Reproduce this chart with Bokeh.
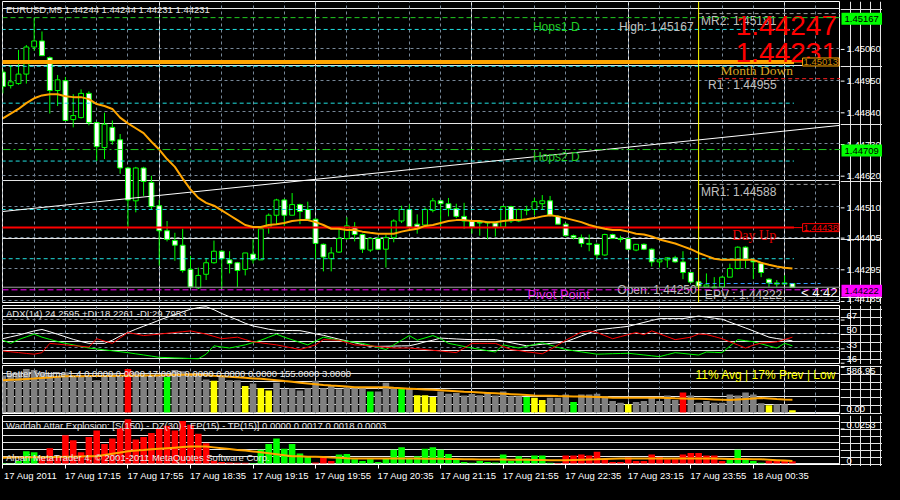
from bokeh.plotting import figure
from bokeh.models import Range1d, FixedTicker, Grid, Label, Span, ColumnDataSource, GlobalInlineStyleSheet
from bokeh.layouts import column, row
from bokeh.core.properties import value
from bokeh.embed import file_html
from bokeh.resources import INLINE

# ---------------------------------------------------------------- data
symbol_title = "EURUSD,M5 1.44244 1.44244 1.44231 1.44231"
bars = list(range(102))
tick_bars = list(range(0, 97, 8))
time_labels = ["17 Aug 2011", "17 Aug 17:15", "17 Aug 17:55", "17 Aug 18:35", "17 Aug 19:15",
               "17 Aug 19:55", "17 Aug 20:35", "17 Aug 21:15", "17 Aug 21:55", "17 Aug 22:35",
               "17 Aug 23:15", "17 Aug 23:55", "18 Aug 00:35"]

opens = [1.44978, 1.44931, 1.44938, 1.44971, 1.45065, 1.45086, 1.45028, 1.44914, 1.44948, 1.44813,
         1.44820, 1.44904, 1.44803, 1.44716, 1.44786, 1.44743, 1.44645, 1.44531, 1.44645, 1.44595,
         1.44514, 1.44427, 1.44393, 1.44377, 1.44293, 1.44229, 1.44276, 1.44316, 1.44356, 1.44326,
         1.44316, 1.44293, 1.44346, 1.44326, 1.44440, 1.44481, 1.44534, 1.44481, 1.44518, 1.44501,
         1.44467, 1.44380, 1.44330, 1.44353, 1.44400, 1.44440, 1.44414, 1.44360, 1.44400, 1.44363,
         1.44403, 1.44461, 1.44501, 1.44450, 1.44447, 1.44498, 1.44531, 1.44521, 1.44504, 1.44477,
         1.44461, 1.44457, 1.44457, 1.44454, 1.44440, 1.44511, 1.44461, 1.44501, 1.44501, 1.44521,
         1.44531, 1.44477, 1.44450, 1.44410, 1.44403, 1.44383, 1.44380, 1.44343, 1.44414, 1.44400,
         1.44400, 1.44360, 1.44380, 1.44363, 1.44319, 1.44326, 1.44333, 1.44319, 1.44282, 1.44250,
         1.44232, 1.44229, 1.44232, 1.44266, 1.44296, 1.44370, 1.44323, 1.44313, 1.44259, 1.44246,
         1.44246, 1.44244]
highs = [1.44988, 1.45002, 1.45055, 1.45072, 1.45167, 1.45119, 1.45032, 1.44968, 1.44961, 1.44901,
         1.44918, 1.44911, 1.44803, 1.44837, 1.44810, 1.44763, 1.44649, 1.44649, 1.44649, 1.44618,
         1.44534, 1.44461, 1.44420, 1.44434, 1.44340, 1.44299, 1.44333, 1.44393, 1.44360, 1.44356,
         1.44319, 1.44350, 1.44397, 1.44440, 1.44487, 1.44538, 1.44538, 1.44558, 1.44521, 1.44528,
         1.44471, 1.44383, 1.44370, 1.44440, 1.44474, 1.44457, 1.44417, 1.44400, 1.44407, 1.44414,
         1.44467, 1.44514, 1.44518, 1.44484, 1.44508, 1.44541, 1.44534, 1.44541, 1.44521, 1.44524,
         1.44464, 1.44461, 1.44457, 1.44457, 1.44514, 1.44514, 1.44504, 1.44514, 1.44541, 1.44551,
         1.44548, 1.44481, 1.44454, 1.44414, 1.44414, 1.44414, 1.44383, 1.44417, 1.44417, 1.44410,
         1.44400, 1.44380, 1.44383, 1.44366, 1.44330, 1.44336, 1.44340, 1.44356, 1.44282, 1.44253,
         1.44279, 1.44266, 1.44269, 1.44313, 1.44373, 1.44373, 1.44330, 1.44316, 1.44262, 1.44256,
         1.44272, 1.44244]
lows = [1.44904, 1.44921, 1.44934, 1.44938, 1.45052, 1.45035, 1.44834, 1.44860, 1.44810, 1.44786,
        1.44817, 1.44793, 1.44669, 1.44676, 1.44726, 1.44625, 1.44440, 1.44491, 1.44548, 1.44501,
        1.44306, 1.44390, 1.44323, 1.44282, 1.44229, 1.44225, 1.44256, 1.44313, 1.44222, 1.44279,
        1.44232, 1.44272, 1.44313, 1.44326, 1.44417, 1.44447, 1.44444, 1.44481, 1.44450, 1.44464,
        1.44330, 1.44286, 1.44286, 1.44350, 1.44397, 1.44390, 1.44350, 1.44353, 1.44360, 1.44299,
        1.44387, 1.44454, 1.44434, 1.44417, 1.44440, 1.44491, 1.44440, 1.44477, 1.44471, 1.44434,
        1.44417, 1.44410, 1.44397, 1.44407, 1.44434, 1.44454, 1.44457, 1.44481, 1.44481, 1.44501,
        1.44477, 1.44450, 1.44407, 1.44397, 1.44370, 1.44356, 1.44330, 1.44340, 1.44400, 1.44387,
        1.44360, 1.44356, 1.44360, 1.44303, 1.44299, 1.44299, 1.44316, 1.44259, 1.44246, 1.44232,
        1.44232, 1.44229, 1.44232, 1.44266, 1.44293, 1.44296, 1.44259, 1.44266, 1.44232, 1.44232,
        1.44242, 1.44231]
closes = [1.44928, 1.44944, 1.44971, 1.45065, 1.45086, 1.45035, 1.44914, 1.44951, 1.44810, 1.44827,
          1.44904, 1.44803, 1.44719, 1.44797, 1.44739, 1.44645, 1.44534, 1.44645, 1.44598, 1.44511,
          1.44427, 1.44397, 1.44377, 1.44289, 1.44232, 1.44272, 1.44316, 1.44356, 1.44330, 1.44313,
          1.44289, 1.44350, 1.44326, 1.44434, 1.44481, 1.44534, 1.44481, 1.44518, 1.44494, 1.44467,
          1.44383, 1.44336, 1.44350, 1.44400, 1.44444, 1.44414, 1.44363, 1.44400, 1.44363, 1.44403,
          1.44461, 1.44501, 1.44440, 1.44434, 1.44501, 1.44531, 1.44521, 1.44504, 1.44477, 1.44461,
          1.44440, 1.44454, 1.44454, 1.44440, 1.44511, 1.44461, 1.44501, 1.44498, 1.44528, 1.44531,
          1.44481, 1.44450, 1.44410, 1.44403, 1.44383, 1.44380, 1.44343, 1.44414, 1.44400, 1.44397,
          1.44363, 1.44380, 1.44363, 1.44319, 1.44326, 1.44333, 1.44319, 1.44282, 1.44249, 1.44235,
          1.44239, 1.44232, 1.44266, 1.44296, 1.44370, 1.44326, 1.44319, 1.44282, 1.44246, 1.44242,
          1.44242, 1.44231]
price_ma = [1.44817, 1.44834, 1.44850, 1.44870, 1.44887, 1.44897, 1.44901, 1.44901, 1.44894, 1.44891,
            1.44891, 1.44884, 1.44867, 1.44860, 1.44850, 1.44820, 1.44800, 1.44783, 1.44766, 1.44736,
            1.44709, 1.44676, 1.44649, 1.44608, 1.44571, 1.44541, 1.44524, 1.44514, 1.44498, 1.44481,
            1.44464, 1.44447, 1.44440, 1.44440, 1.44447, 1.44450, 1.44454, 1.44461, 1.44464, 1.44464,
            1.44457, 1.44447, 1.44434, 1.44434, 1.44430, 1.44430, 1.44424, 1.44420, 1.44417, 1.44417,
            1.44417, 1.44424, 1.44430, 1.44434, 1.44444, 1.44447, 1.44454, 1.44461, 1.44464, 1.44464,
            1.44461, 1.44461, 1.44457, 1.44457, 1.44461, 1.44464, 1.44464, 1.44467, 1.44471, 1.44477,
            1.44481, 1.44477, 1.44471, 1.44464, 1.44457, 1.44447, 1.44440, 1.44434, 1.44430, 1.44430,
            1.44424, 1.44417, 1.44414, 1.44407, 1.44397, 1.44390, 1.44383, 1.44373, 1.44363, 1.44350,
            1.44340, 1.44330, 1.44326, 1.44326, 1.44326, 1.44326, 1.44326, 1.44316, 1.44309, 1.44303,
            1.44299, 1.44296]

# levels / objects
level_high = 1.45167          # High (Hops1 D)
level_hops2 = 1.44709         # Hops2 D
level_month_down = 1.45013
level_day_up = 1.44438
level_pivot = 1.44222
level_bid = 1.44231
level_today = 1.44244
level_r1 = 1.44955
level_mr2 = 1.45181
level_mr1 = 1.44588
cyan_levels = [1.45126, 1.44998, 1.44870, 1.44669, 1.44501, 1.44330]
trend_x = [0, 107.1]
trend_y = [1.44494, 1.44793]
day_start_bar = 89
ask_text, bid_text = "1.44247", "1.44231"
price_ticks = [1.45060, 1.44950, 1.44840, 1.44730, 1.44620, 1.44510, 1.44405, 1.44295, 1.44185]

adx = [43.8, 46, 48, 50.5, 53, 54.7, 52, 49, 46, 43,
       40.5, 38.3, 38.3, 38.3, 42, 47, 51.1, 55, 58.5, 62,
       65.7, 69, 72, 75.5, 78.5, 80.5, 81.5, 78, 73.5, 69.7,
       66, 62, 58.8, 57, 55, 53.6, 53.5, 53.4, 53.3, 51.5,
       49.5, 47.8, 45.5, 43.2, 41.2, 39, 36.8, 34.6, 34.7, 34.9,
       35.1, 35.3, 35.4, 37.5, 40, 42, 44.5, 44, 43.5, 43,
       42.7, 42.7, 42.7, 42.7, 40.9, 39, 37.2, 35.4, 36.3, 37.2,
       38.2, 39.1, 40.1, 43.6, 47.1, 50.6, 54.1, 55.2, 56.3, 57.3,
       58.4, 60.7, 63, 65.3, 67.5, 67.5, 67.5, 67.5, 69, 70.5,
       69.3, 68, 66.8, 63.3, 59.9, 56.5, 53, 49.3, 45.6, 44,
       42.7, 41.2]
plus_di = [42, 38.3, 42.7, 46, 49.2, 45.6, 43, 40.5, 38.3, 36.5,
           34.6, 32.8, 31.7, 30.6, 29.5, 28.4, 27.3, 25.9, 24.6, 23.2,
           21.8, 21.5, 21.1, 20.8, 20.4, 20.1, 25.5, 35.4, 34, 32.8,
           34.6, 36.5, 39.2, 42, 45.6, 49.2, 45.6, 42.5, 39.5, 36.5,
           41, 45.6, 43.8, 42, 40.8, 39.5, 38.3, 35.9, 33.4, 31,
           36.5, 42, 47.5, 42, 44.7, 47.5, 43.8, 38.3, 36.5, 34.6,
           32.8, 31.2, 29.6, 28.1, 36.5, 34.6, 32.8, 34.9, 36.9, 39,
           36.3, 33.6, 31, 29.6, 28.2, 26.9, 25.5, 25.8, 26.1, 26.3,
           26.6, 25.6, 24.6, 23.6, 22.6, 25, 27.3, 26.4, 25.4, 24.5,
           28.1, 27.7, 27.3, 35, 42.7, 41.4, 40.1, 37.7, 35.2, 32.8,
           38.3, 35.4]
minus_di = [29.2, 28.3, 27.4, 26.4, 25.5, 27.3, 38.3, 37.4, 36.5, 35.6,
            34.8, 33.9, 43.8, 41, 38.3, 44.7, 51.1, 49.3, 47.5, 48.3,
            49.2, 50.2, 51.1, 52, 53, 51.1, 49.2, 46.5, 43.8, 44.7,
            45.6, 42.8, 40.1, 38.9, 37.7, 36.5, 34.7, 32.8, 31, 33.7,
            36.5, 42.7, 42.3, 42, 39.2, 36.5, 36, 35.4, 34.5, 33.7,
            32.8, 32.8, 32.8, 31.9, 31, 30.1, 29.2, 28.3, 27.3, 32.8,
            38.3, 38.3, 38.3, 38.3, 34.6, 31, 29.8, 28.3, 27.2, 26,
            30.9, 36.4, 42, 46.8, 51.7, 53, 51.1, 47.5, 43.8, 46.2,
            48.7, 51.1, 48.5, 53, 49.6, 46.1, 42.7, 44.1, 45.6, 49.3,
            48.8, 46.3, 43.8, 40.1, 36.5, 32.8, 36.2, 38.6, 39.2, 40.1,
            42.8, 45.6]
adx_ticks = [16, 33, 50, 67]

volume = [472, 500, 500, 553, 540, 512, 484, 451, 512, 472,
          451, 472, 411, 451, 492, 451, 553, 512, 484, 472,
          484, 451, 540, 525, 500, 492, 419, 403, 472, 411,
          411, 338, 370, 309, 281, 378, 297, 309, 281, 309,
          403, 309, 350, 297, 321, 309, 309, 268, 268, 378,
          321, 309, 309, 220, 220, 199, 268, 240, 248, 216,
          236, 220, 248, 216, 268, 207, 207, 199, 187, 159,
          187, 187, 228, 134, 228, 228, 240, 207, 146, 126,
          106, 134, 146, 187, 146, 216, 159, 256, 216, 126,
          146, 126, 126, 228, 216, 256, 228, 118, 94, 106,
          106, 28]
volume_ma = [411, 416, 421, 427, 433, 440, 447, 454, 460, 461,
             462, 463, 464, 465, 466, 467, 468, 469, 470, 471,
             472, 475, 478, 481, 484, 479, 473, 467, 462, 455,
             448, 441, 434, 431, 421, 411, 400, 390, 380, 370,
             360, 350, 343, 337, 330, 323, 321, 321, 321, 321,
             315, 310, 304, 298, 294, 290, 285, 278, 271, 264,
             260, 255, 250, 245, 240, 234, 228, 222, 216, 214,
             212, 209, 207, 205, 203, 201, 199, 193, 187, 187,
             187, 187, 187, 187, 187, 185, 182, 180, 177, 175,
             171, 167, 163, 159, 166, 173, 180, 185, 180, 172,
             165, 162]
volume_signal = {16: "climax", 87: "climax",
                 21: "churn", 47: "churn", 51: "churn", 67: "churn", 73: "churn",
                 27: "low", 31: "low", 33: "low", 34: "low", 53: "low", 54: "low", 55: "low",
                 68: "low", 69: "low", 80: "low", 98: "low", 101: "low"}
volume_ticks = [0, 586.95]

wae_hist = [0.0003, 0.0002, 0.0018, 0.0087, 0.0080, 0.0052, 0.0109, 0.0057, 0.0201, 0.0166,
            0.0080, 0.0189, 0.0235, 0.0139, 0.0178, 0.0253, 0.0315, 0.0171, 0.0189, 0.0217,
            0.0246, 0.0269, 0.0235, 0.0303, 0.0276, 0.0212, 0.0144, 0.0020, 0.0010, 0.0008,
            0.0006, 0.0005, 0.0004, 0.0098, 0.0139, 0.0178, 0.0105, 0.0139, 0.0071, 0.0052,
            0.0007, 0.0041, 0.0018, 0.0064, 0.0068, 0.0030, 0.0018, 0.0030, 0.0010, 0.0036,
            0.0098, 0.0116, 0.0041, 0.0052, 0.0105, 0.0116, 0.0098, 0.0068, 0.0030, 0.0010,
            0.0006, 0.0018, 0.0010, 0.0008, 0.0064, 0.0018, 0.0052, 0.0036, 0.0057, 0.0057,
            0.0005, 0.0003, 0.0057, 0.0057, 0.0064, 0.0057, 0.0084, 0.0030, 0.0011, 0.0010,
            0.0043, 0.0018, 0.0018, 0.0064, 0.0046, 0.0030, 0.0030, 0.0064, 0.0075, 0.0075,
            0.0057, 0.0057, 0.0018, 0.0030, 0.0098, 0.0030, 0.0018, 0.0005, 0.0018, 0.0018,
            0.0018, 0.0017]
wae_trend = "ggggg" + "r" * 27 + "g" * 8 + "rrr" + "g" * 28 + "r" * 22 + "ggggg" + "rrrr"
wae_explosion = [0.0041, 0.0042, 0.0043, 0.0044, 0.0045, 0.0046, 0.0047, 0.0047, 0.0048, 0.0049,
                 0.0050, 0.0051, 0.0052, 0.0061, 0.0070, 0.0078, 0.0087, 0.0092, 0.0096, 0.0101,
                 0.0105, 0.0109, 0.0113, 0.0117, 0.0121, 0.0121, 0.0121, 0.0115, 0.0109, 0.0103,
                 0.0097, 0.0092, 0.0086, 0.0080, 0.0073, 0.0066, 0.0059, 0.0052, 0.0051, 0.0049,
                 0.0048, 0.0046, 0.0043, 0.0041, 0.0038, 0.0036, 0.0036, 0.0036, 0.0036, 0.0036,
                 0.0036, 0.0035, 0.0035, 0.0035, 0.0034, 0.0034, 0.0034, 0.0033, 0.0032, 0.0031,
                 0.0030, 0.0029, 0.0029, 0.0028, 0.0028, 0.0027, 0.0027, 0.0026, 0.0025, 0.0025,
                 0.0024, 0.0024, 0.0023, 0.0025, 0.0027, 0.0029, 0.0030, 0.0032, 0.0034, 0.0036,
                 0.0036, 0.0036, 0.0036, 0.0036, 0.0036, 0.0036, 0.0036, 0.0036, 0.0036, 0.0036,
                 0.0035, 0.0035, 0.0034, 0.0033, 0.0033, 0.0032, 0.0031, 0.0030, 0.0027, 0.0024,
                 0.0021, 0.0018]
wae_ticks = [0, 0.0253]

adx_title = "ADX(14) 24.2595 +DI:18.2261 -DI:29.7953"
vol_title = "Better Volume 1.4 0.0000 0.0000 17.0000 0.0000 0.0000 0.0000 155.0000 3.0000"
vol_status = "11% Avg | 17% Prev | Low"
wae_title = "Waddah Attar Explosion: [S(150) - DZ(30) - EP(15) - TP(15)] 0.0000 0.0017 0.0018 0.0003"
copyright_text = "Alpari MetaTrader 4, \u00a9 2001-2011 MetaQuotes Software Corp."

# ---------------------------------------------------------------- style
FONT = "Liberation Sans"
SERIF = "Liberation Serif"
BG = "#000000"
FG = "#ffffff"
GRID = "#778899"
SILVER = "#c0c0c0"
LIME = "#00ff00"
FS = "9.5px"
X0, X1 = -0.05, 107.15
FRAME_W = 838
AX_W = 42
x_range = Range1d(X0, X1)


def panel(frame_h, y0, y1, grid_ticks, top=1, bottom=1, x_axis=False):
    p = figure(x_range=x_range, y_range=Range1d(y0, y1), frame_width=FRAME_W, frame_height=frame_h,
               min_border_left=2, min_border_right=0, min_border_top=top, min_border_bottom=bottom,
               output_backend="svg", toolbar_location=None,
               x_axis_location="below" if x_axis else None, y_axis_location=None,
               background_fill_color=BG, border_fill_color=BG, outline_line_color=FG)
    p.add_layout(Grid(dimension=0, ticker=FixedTicker(ticks=list(range(0, 108, 4))),
                      grid_line_color=GRID, grid_line_dash="3 3"))
    if grid_ticks:
        p.add_layout(Grid(dimension=1, ticker=FixedTicker(ticks=grid_ticks),
                          grid_line_color=GRID, grid_line_dash="3 3"))
    return p


def price_scale(p, frame_h, top, bottom, ticks, labels, baselines, offsets, tags=()):
    """MT4-style price scale to the right of panel p (same vertical mapping)."""
    per_px = (p.y_range.end - p.y_range.start) / frame_h
    yr = Range1d(p.y_range.start - bottom * per_px, p.y_range.end + top * per_px)
    a = figure(x_range=Range1d(0, AX_W), y_range=yr, frame_width=AX_W,
               frame_height=frame_h + top + bottom, min_border=0,
               x_axis_location=None, y_axis_location=None, output_backend="svg",
               toolbar_location=None, background_fill_color=BG, border_fill_color=BG,
               outline_line_color=None)
    n = len(ticks)
    a.segment(x0=[0] * n, y0=ticks, x1=[4] * n, y1=ticks, line_color=FG, line_width=1)
    for i in range(n):
        a.text(x=[6], y=[ticks[i]], text=[labels[i]], text_color=FG, text_font=value(FONT),
               text_font_size=value(FS), text_baseline=baselines[i], text_align="left",
               y_offset=offsets[i])
    for lv, col in tags:
        a.rect(x=[AX_W / 2 + 0.5], y=[lv], width=[AX_W - 1], height=12, height_units="screen",
               fill_color=col, line_color=None)
        a.text(x=[4], y=[lv], text=[f"{lv:.5f}"], text_color="#000000", text_font=value(FONT),
               text_font_size=value(FS), text_baseline="middle")
    return a


def texts(p, xs, ys, labels, color, size, font=FONT, align="left", baseline="middle"):
    p.text(x=xs, y=ys, text=labels, text_color=color, text_font=value(font),
           text_font_size=value(size), text_align=align, text_baseline=baseline)


# ---------------------------------------------------------------- main chart
MAIN_H, MAIN_T, MAIN_B = 301, 1, 2
main = panel(MAIN_H, 1.44178, 1.45223, price_ticks, top=MAIN_T, bottom=MAIN_B)

src = ColumnDataSource(dict(
    x=bars, o=opens, h=highs, l=lows, c=closes,
    top=[max(o, c) for o, c in zip(opens, closes)],
    bottom=[min(o, c) for o, c in zip(opens, closes)],
    fill=["#ffffff" if c < o else "#000000" for o, c in zip(opens, closes)]))
main.segment(x0="x", y0="l", x1="x", y1="h", line_color=LIME, line_width=1, source=src)
main.vbar(x="x", width=0.62, top="top", bottom="bottom", fill_color="fill",
          line_color=LIME, line_width=1, source=src)

main.add_layout(Span(location=level_high, dimension="width", line_color="#22cc22",
                     line_dash="5 3", line_width=1))
main.add_layout(Span(location=level_hops2, dimension="width", line_color="#22cc22",
                     line_dash="8 3 2 3", line_width=1))
for lv in cyan_levels:
    main.segment(x0=[X0 - 1], y0=[lv], x1=[101.2], y1=[lv], line_color="#20e0e0",
                 line_dash="4 3", line_width=1)
main.add_layout(Span(location=level_bid, dimension="width", line_color="#a0a0a0", line_width=1))
main.add_layout(Span(location=level_pivot, dimension="width", line_color="#ff00ff",
                     line_dash="6 3", line_width=1))
main.segment(x0=[day_start_bar], y0=[level_today], x1=[104.6], y1=[level_today],
             line_color="#3399ff", line_dash="4 3", line_width=1)
main.segment(x0=[day_start_bar, day_start_bar, 91.5], y0=[level_mr2, level_mr1, level_r1],
             x1=[X1 + 1] * 3, y1=[level_mr2, level_mr1, level_r1],
             line_color=["#a0a0a0", "#a0a0a0", "#ff2020"], line_dash="4 3", line_width=1)
main.line(x=trend_x, y=trend_y, line_color=FG, line_width=1)
main.segment(x0=[X0 - 1, X0 - 1], y0=[level_month_down, level_day_up], x1=[101.2, 101.2],
             y1=[level_month_down, level_day_up], line_color=["#ffa500", "#ff0000"],
             line_width=[4, 2])
main.segment(x0=[101.2, 101.2], y0=[level_month_down, level_day_up], x1=[102.3, 102.3],
             y1=[level_month_down, level_day_up], line_color=["#ffa500", "#ff0000"], line_width=1)
main.add_layout(Span(location=day_start_bar, dimension="height", line_color="#ffff00", line_width=1))
main.line(x=bars, y=price_ma, line_color="#ffa500", line_width=2)

texts(main, [0.4], [1.45213], [symbol_title], "#e8e8e8", FS, baseline="top")
texts(main, [67.8, 67.8], [1.45136, 1.44682], ["Hops1 D", "Hops2 D"], "#22cc22", "12px")
texts(main, [78.8, 89.3, 90.2, 89.3, 78.6, 89.8],
      [1.45136, 1.45156, 1.44934, 1.44561, 1.44222, 1.44205],
      ["High: 1.45167", "MR2: 1.45181", "R1 : 1.44955", "MR1: 1.44588", "Open: 1.44250", "EPV : 1.44222"],
      SILVER, "12px")
texts(main, [106.7, 106.7], [1.45139, 1.45045], [ask_text, bid_text], "#ff0000", "28px", align="right")
texts(main, [91.8], [1.44985], ["Month Down"], "#daa520", "13.5px", font=SERIF)
texts(main, [93.3], [1.44410], ["Day Up"], "#e00000", "14px", font=SERIF)
texts(main, [67.1], [1.44206], ["Pivot Point"], "#e020e0", "13px")
texts(main, [102.1], [1.44212], ["< 4:42"], FG, "13px")

for lv, col, tcol in [(level_month_down, "#ffa500", "#d08a00"), (level_day_up, "#ff0000", "#ff0000")]:
    main.add_layout(Label(x=102.3, y=lv, text=f"{lv:.5f}", text_font=FONT, text_font_size=FS,
                          text_color=tcol, text_baseline="middle", background_fill_color=BG,
                          border_line_color=col, padding=1))

ax_main = price_scale(main, MAIN_H, MAIN_T, MAIN_B, price_ticks,
                      [f"{t:.5f}" for t in price_ticks], ["middle"] * len(price_ticks),
                      [0] * (len(price_ticks) - 1) + [-2],
                      tags=[(level_high, "#00ff00"), (level_hops2, "#00ff00"), (level_pivot, "#ff00ff")])

# ---------------------------------------------------------------- ADX
ADX_H = 58
p_adx = panel(ADX_H, 14.5, 83, [33, 50, 67])
p_adx.line(x=bars, y=adx, line_color=FG, line_width=1)
p_adx.line(x=bars, y=plus_di, line_color=LIME, line_width=1)
p_adx.line(x=bars, y=minus_di, line_color="#ff0000", line_width=1)
texts(p_adx, [0.4], [80.5], [adx_title], "#e8e8e8", FS, baseline="top")
ax_adx = price_scale(p_adx, ADX_H, 1, 1, adx_ticks, [str(t) for t in adx_ticks],
                     ["bottom"] * len(adx_ticks), [-1, -1, -1, -1])

# ---------------------------------------------------------------- Better Volume
VOL_H = 48
palette = {"climax": "#ff0000", "churn": "#00ff00", "low": "#ffff00"}
vol_colors = [palette.get(volume_signal.get(i, ""), "#808080") for i in bars]
p_vol = panel(VOL_H, -12, 598, None)
p_vol.vbar(x=bars, width=0.84, top=volume, bottom=0, fill_color=vol_colors, line_color=None)
p_vol.line(x=bars, y=volume_ma, line_color="#ffa500", line_width=2)
texts(p_vol, [0.4], [565], [vol_title], "#e8e8e8", FS, baseline="top")
texts(p_vol, [88.6], [480], [vol_status], "#ffff00", "12px")
ax_vol = price_scale(p_vol, VOL_H, 1, 1, volume_ticks, [f"{t:.2f}" for t in volume_ticks],
                     ["bottom", "top"], [-2, 1])

# ---------------------------------------------------------------- Waddah Attar Explosion
WAE_H = 49
wae_colors = ["#00ff00" if t == "g" else "#ff0000" for t in wae_trend]
p_wae = panel(WAE_H, -0.0007, 0.0342, None, x_axis=True)
p_wae.xgrid.visible = False
p_wae.vbar(x=bars, width=0.84, top=wae_hist, bottom=0, fill_color=wae_colors, line_color=None)
p_wae.line(x=bars, y=wae_explosion, line_color="#ffa500", line_width=2)
texts(p_wae, [0.4], [0.0312], [wae_title], "#e8e8e8", FS, baseline="top")
texts(p_wae, [0.4], [0.0041], [copyright_text], "#e8e8e8", FS)
ax_wae = price_scale(p_wae, WAE_H, 1, 2, wae_ticks, ["0", "0.0253"], ["bottom", "bottom"], [-1, -1])

# time axis: labels start at the tick (MT4 style), tick marks drawn as minor ticks
shifted = [b + 3.55 for b in tick_bars]
xax = p_wae.xaxis[0]
xax.ticker = FixedTicker(ticks=shifted, minor_ticks=tick_bars)
xax.major_label_overrides = dict(zip(shifted, time_labels))
xax.major_tick_line_color = None
xax.major_tick_out = 4
xax.major_tick_in = 0
xax.minor_tick_line_color = FG
xax.minor_tick_out = 4
xax.minor_tick_in = 0
xax.axis_line_color = FG
xax.major_label_standoff = 1
xax.major_label_text_color = FG
xax.major_label_text_font = FONT
xax.major_label_text_font_size = FS

layout = column(row(main, ax_main, spacing=0), row(p_adx, ax_adx, spacing=0),
                row(p_vol, ax_vol, spacing=0), row(p_wae, ax_wae, spacing=0), spacing=0)
layout.stylesheets = [GlobalInlineStyleSheet(css="html, body { background-color: #000000; }")]

open("out.html", "w").write(file_html(layout, INLINE))
